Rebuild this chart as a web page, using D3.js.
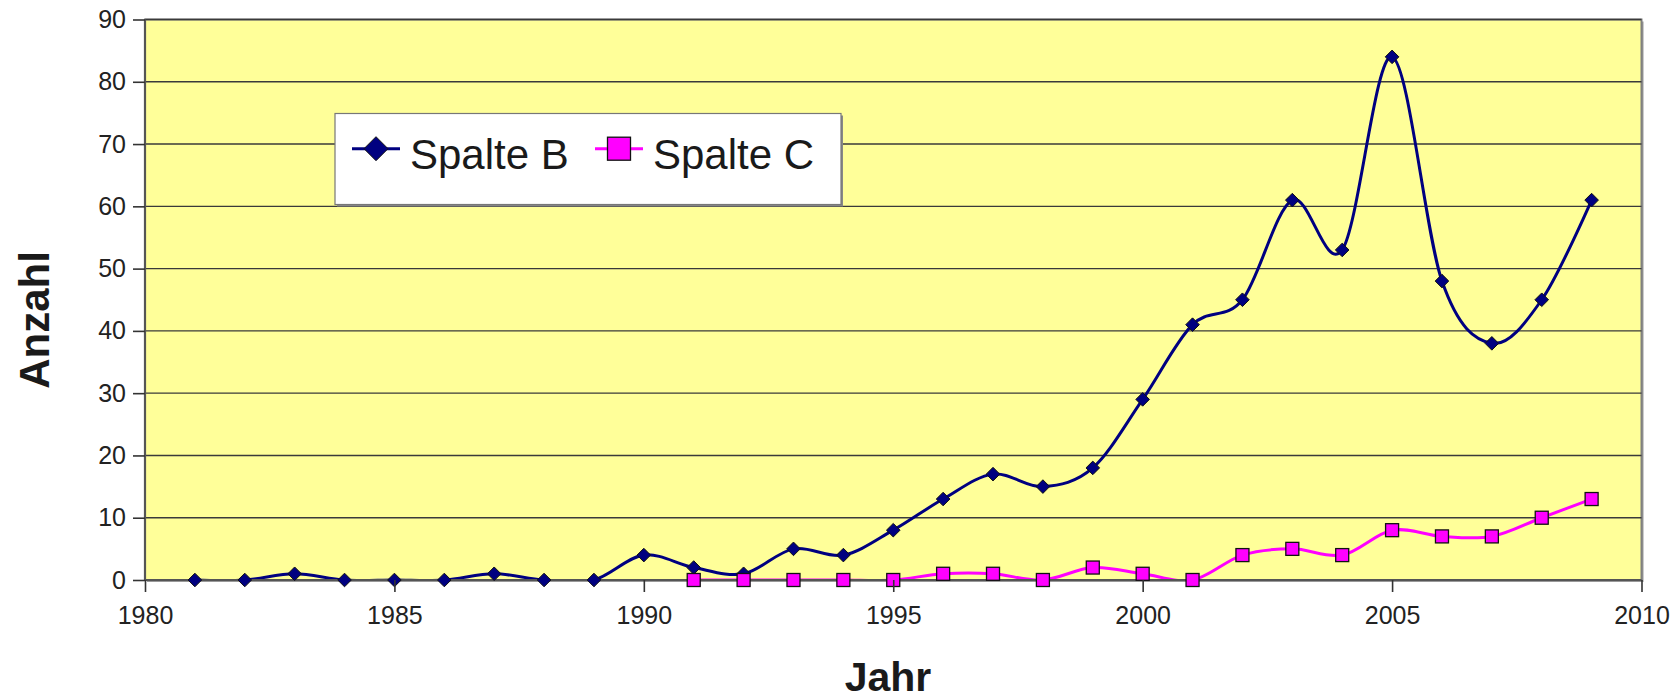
<!DOCTYPE html>
<html>
<head>
<meta charset="utf-8">
<script src="https://cdn.jsdelivr.net/npm/d3@7"></script>
<style>
  html, body { margin: 0; padding: 0; background: #fff; }
  svg { display: block; font-family: "Liberation Sans", Arial, sans-serif; }
</style>
</head>
<body>
<svg id="chart" width="1679" height="700"></svg>
<script>
// ---- data ----
const yearsB = [1981,1982,1983,1984,1985,1986,1987,1988,1989,1990,1991,1992,1993,1994,1995,1996,1997,1998,1999,2000,2001,2002,2003,2004,2005,2006,2007,2008,2009];
const valuesB = [0,0,1,0,0,0,1,0,0,4,2,1,5,4,8,13,17,15,18,29,41,45,61,53,84,48,38,45,61];
const yearsC = [1991,1992,1993,1994,1995,1996,1997,1998,1999,2000,2001,2002,2003,2004,2005,2006,2007,2008,2009];
const valuesC = [0,0,0,0,0,1,1,0,2,1,0,4,5,4,8,7,7,10,13];
const xTicks = [1980,1985,1990,1995,2000,2005,2010];
const yTicks = [0,10,20,30,40,50,60,70,80,90];
const seriesNames = ["Spalte B", "Spalte C"];
const xTitle = "Jahr";
const yTitle = "Anzahl";

// ---- layout ----
const L = 145, R = 1641.5, T = 19.5, B = 580;
const svg = d3.select("#chart");
const x = d3.scaleLinear().domain([1980, 2010]).range([L, R]);
const y = d3.scaleLinear().domain([0, 90]).range([B, T]);

// plot area shadow + background
svg.append("rect").attr("x", L + 2).attr("y", T + 2).attr("width", R - L).attr("height", B - T)
  .attr("fill", "#999");
svg.append("rect").attr("x", L).attr("y", T).attr("width", R - L).attr("height", B - T)
  .attr("fill", "#FFFF99").attr("stroke", "#808080").attr("stroke-width", 2);

// gridlines
svg.append("g").selectAll("line").data(yTicks.filter(d => d > 0)).join("line")
  .attr("x1", L).attr("x2", R).attr("y1", d => y(d)).attr("y2", d => y(d))
  .attr("stroke", "#3a3a3a").attr("stroke-width", 1.4);

// clip
svg.append("defs").append("clipPath").attr("id", "clip")
  .append("rect").attr("x", L).attr("y", T - 10).attr("width", R - L).attr("height", B - T + 10);

const series = [
  { name: seriesNames[0], years: yearsB, values: valuesB, color: "#000080", marker: "diamond" },
  { name: seriesNames[1], years: yearsC, values: valuesC, color: "#FF00FF", marker: "square" }
];

const line = d3.line().curve(d3.curveCardinal.tension(0)).x(d => x(d[0])).y(d => y(d[1]));

const gLines = svg.append("g").attr("clip-path", "url(#clip)");
series.forEach(s => {
  const pts = s.years.map((yr, i) => [yr, s.values[i]]);
  gLines.append("path").datum(pts).attr("d", line)
    .attr("fill", "none").attr("stroke", s.color).attr("stroke-width", 3);
});

// axes lines
svg.append("line").attr("x1", L).attr("x2", L).attr("y1", T).attr("y2", B)
  .attr("stroke", "#555").attr("stroke-width", 2.2);
svg.append("line").attr("x1", L).attr("x2", R).attr("y1", B).attr("y2", B)
  .attr("stroke", "#555").attr("stroke-width", 2.2);

// markers
function drawMarker(g, type, cx, cy, size, fill) {
  if (type === "diamond") {
    g.append("path")
      .attr("d", `M${cx},${cy - size}L${cx + size},${cy}L${cx},${cy + size}L${cx - size},${cy}Z`)
      .attr("fill", fill).attr("stroke", "#111").attr("stroke-width", 1);
  } else {
    g.append("rect").attr("x", cx - size).attr("y", cy - size)
      .attr("width", size * 2).attr("height", size * 2)
      .attr("fill", fill).attr("stroke", "#111").attr("stroke-width", 1.3);
  }
}
const gMarks = svg.append("g");
series.forEach(s => {
  s.years.forEach((yr, i) => {
    drawMarker(gMarks, s.marker, x(yr), y(s.values[i]), s.marker === "diamond" ? 6.8 : 6.5, s.color);
  });
});

// axes
const yAxis = d3.axisLeft(y).tickValues(yTicks).tickSize(12).tickPadding(7).tickSizeOuter(0);
const gy = svg.append("g").attr("transform", `translate(${L},0)`).call(yAxis);
gy.select(".domain").remove();
gy.selectAll(".tick line").attr("stroke", "#333").attr("stroke-width", 1.6);
gy.selectAll(".tick text").attr("font-size", 25).attr("fill", "#222")
  .attr("font-family", "Liberation Sans, Arial, sans-serif");

const xAxis = d3.axisBottom(x).tickValues(xTicks).tickFormat(d3.format("d")).tickSize(12).tickPadding(14).tickSizeOuter(0);
const gx = svg.append("g").attr("transform", `translate(0,${B})`).call(xAxis);
gx.select(".domain").remove();
gx.selectAll(".tick line").attr("stroke", "#333").attr("stroke-width", 1.6);
gx.selectAll(".tick text").attr("font-size", 25).attr("fill", "#222")
  .attr("font-family", "Liberation Sans, Arial, sans-serif");

// axis titles
svg.append("text").attr("x", 888).attr("y", 691).attr("text-anchor", "middle")
  .attr("font-size", 41).attr("font-weight", "bold").attr("fill", "#1a1a1a").text(xTitle);
svg.append("text").attr("transform", "translate(49,320) rotate(-90)").attr("text-anchor", "middle")
  .attr("font-size", 42).attr("font-weight", "bold").attr("fill", "#1a1a1a").text(yTitle);

// legend
const lg = svg.append("g");
lg.append("rect").attr("x", 337).attr("y", 115.5).attr("width", 506).attr("height", 91).attr("fill", "#888");
lg.append("rect").attr("x", 335).attr("y", 113.5).attr("width", 506).attr("height", 91)
  .attr("fill", "#fff").attr("stroke", "#777").attr("stroke-width", 1.2);
const legendItems = [
  { lx1: 352, lx2: 400, mx: 376, tx: 410 },
  { lx1: 595, lx2: 643, mx: 619, tx: 653 }
];
series.forEach((s, i) => {
  const it = legendItems[i];
  const ly = 148.7;
  lg.append("line").attr("x1", it.lx1).attr("x2", it.lx2).attr("y1", ly).attr("y2", ly)
    .attr("stroke", s.color).attr("stroke-width", 3);
  drawMarker(lg, s.marker, it.mx, ly, s.marker === "diamond" ? 12 : 11.5, s.color);
  lg.append("text").attr("x", it.tx).attr("y", 168.5).attr("font-size", 42).attr("fill", "#1a1a1a").text(s.name);
});
</script>
</body>
</html>
